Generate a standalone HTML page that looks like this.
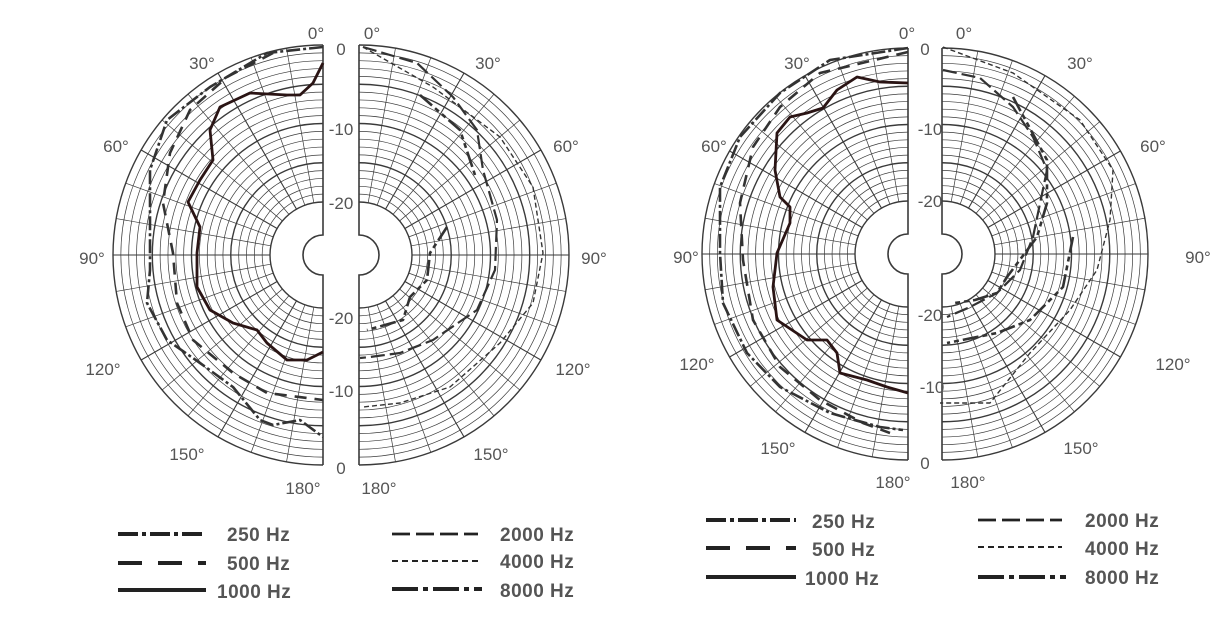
<!DOCTYPE html>
<html><head><meta charset="utf-8"><style>
html,body{margin:0;padding:0;background:#fff;}
svg{display:block}
text{font-family:"Liberation Sans",Arial,sans-serif;fill:#555;}
.lg{font-weight:bold;font-size:19px;fill:#333;letter-spacing:0.5px;}
.ax{font-size:17px;}
</style></head><body>
<svg id="s" width="1227" height="633" viewBox="0 0 1227 633" xmlns="http://www.w3.org/2000/svg">
<g id="grid"></g>
<g id="curves"></g>
<g class="ax" text-anchor="middle">
<text x="316" y="39">0°</text><text x="372" y="39">0°</text>
<text x="202" y="69">30°</text><text x="488" y="69">30°</text>
<text x="116" y="152">60°</text><text x="566" y="152">60°</text>
<text x="92" y="264">90°</text><text x="594" y="264">90°</text>
<text x="103" y="375">120°</text><text x="573" y="375">120°</text>
<text x="187" y="460">150°</text><text x="491" y="460">150°</text>
<text x="303" y="494">180°</text><text x="379" y="494">180°</text>
<text x="341" y="55">0</text><text x="341" y="135">-10</text><text x="341" y="209">-20</text>
<text x="341" y="324">-20</text><text x="341" y="397">-10</text><text x="341" y="474">0</text>
<text x="907" y="39">0°</text><text x="964" y="39">0°</text>
<text x="797" y="69">30°</text><text x="1080" y="69">30°</text>
<text x="714" y="152">60°</text><text x="1153" y="152">60°</text>
<text x="686" y="263">90°</text><text x="1198" y="263">90°</text>
<text x="697" y="370">120°</text><text x="1173" y="370">120°</text>
<text x="778" y="454">150°</text><text x="1081" y="454">150°</text>
<text x="893" y="488">180°</text><text x="968" y="488">180°</text>
<text x="925" y="55">0</text><text x="930" y="135">-10</text><text x="930" y="207">-20</text>
<text x="930" y="321">-20</text><text x="932" y="393">-10</text><text x="925" y="469">0</text>
</g>
<g stroke="#222" stroke-width="4" fill="none">
<line x1="118" y1="534" x2="206" y2="534" stroke-dasharray="20 4 4 4"/>
<line x1="118" y1="563" x2="206" y2="563" stroke-dasharray="24 16"/>
<line x1="118" y1="590" x2="206" y2="590"/>
<line x1="392" y1="534" x2="478" y2="534" stroke-dasharray="18 6" stroke-width="2.8"/>
<line x1="392" y1="561" x2="478" y2="561" stroke-dasharray="6 4" stroke-width="2"/>
<line x1="392" y1="589" x2="482" y2="589" stroke-dasharray="26 5 5 5"/>
<line x1="706" y1="520" x2="796" y2="520" stroke-dasharray="20 4 4 4"/>
<line x1="706" y1="548" x2="796" y2="548" stroke-dasharray="24 16"/>
<line x1="706" y1="577" x2="796" y2="577"/>
<line x1="978" y1="520" x2="1062" y2="520" stroke-dasharray="18 6" stroke-width="2.8"/>
<line x1="978" y1="547" x2="1062" y2="547" stroke-dasharray="6 4" stroke-width="2"/>
<line x1="978" y1="577" x2="1066" y2="577" stroke-dasharray="26 5 5 5"/>
</g>
<g class="lg">
<text x="227" y="541">250 Hz</text><text x="227" y="570">500 Hz</text><text x="217" y="598">1000 Hz</text>
<text x="500" y="541">2000 Hz</text><text x="500" y="568">4000 Hz</text><text x="500" y="597">8000 Hz</text>
<text x="812" y="528">250 Hz</text><text x="812" y="556">500 Hz</text><text x="805" y="585">1000 Hz</text>
<text x="1085" y="527">2000 Hz</text><text x="1085" y="555">4000 Hz</text><text x="1085" y="584">8000 Hz</text>
</g>
</svg>
<script>
var NS="http://www.w3.org/2000/svg";
function el(p,t,a){var e=document.createElementNS(NS,t);for(var k in a)e.setAttribute(k,a[k]);p.appendChild(e);return e;}
var G=document.getElementById("grid"),C=document.getElementById("curves");
function half(cx,cy,R,dir){
  var r0=53,k=(R-r0)/20,s=dir;
  var g=el(G,"g",{stroke:"#3a3a3a",fill:"none"});
  for(var d=0;d<=20;d++){
    var r=r0+d*k,maj=(d%5==0);
    el(g,"path",{d:"M"+cx+","+(cy-r)+" A"+r+","+r+" 0 0 "+(s<0?0:1)+" "+cx+","+(cy+r),"stroke-width":maj?1.4:0.7});
  }
  for(var a=10;a<180;a+=10){
    var t=a*Math.PI/180,sn=Math.sin(t),cs=Math.cos(t);
    el(g,"line",{x1:cx+s*r0*sn,y1:cy-r0*cs,x2:cx+s*R*sn,y2:cy-R*cs,"stroke-width":(a%30==0)?1.1:0.7});
  }
  el(g,"path",{d:"M"+cx+","+(cy-R)+" L"+cx+","+(cy-20)+" A20,20 0 0 "+(s<0?0:1)+" "+cx+","+(cy+20)+" L"+cx+","+(cy+R),"stroke-width":1.6});
}
half(323,255,210,-1);half(359,255,210,1);
half(908,254,206,-1);half(942,254,206,1);
var ST={
 "250":{w:2.6,d:"14 3 3 3",c:"#333"},
 "500":{w:2.6,d:"12 8",c:"#333"},
 "1000":{w:2.8,d:"",c:"#2a1414"},
 "2000":{w:2.2,d:"14 5",c:"#333"},
 "4000":{w:1.4,d:"5 3",c:"#333"},
 "8000":{w:2.6,d:"16 4 5 4 5 4",c:"#333"}
};
function crv(f,p){var s=ST[f];var a={points:p.join(" "),fill:"none",stroke:s.c,"stroke-width":s.w,"stroke-linejoin":"round","stroke-linecap":"butt"};if(s.d)a["stroke-dasharray"]=s.d;el(C,"polyline",a);}
crv("1000",[[323,63],[313,83],[300,95],[287,95],[250,93],[220,107],[210,130],[213,160],[200,180],[188,202],[200,227],[197,253],[197,287],[210,310],[233,323],[257,330],[267,343],[287,360],[307,360],[323,352]]);
crv("250",[[323,47],[267,53],[210,87],[167,120],[150,170],[150,220],[150,270],[147,303],[167,340],[200,363],[233,387],[260,420],[273,425],[300,420],[323,437]]);
crv("500",[[273,53],[227,77],[190,110],[170,153],[163,203],[173,253],[177,303],[193,340],[233,373],[267,393],[323,400]]);
crv("2000",[[363,47],[417,63],[453,97],[477,130],[483,170],[497,220],[495,270],[477,310],[433,340],[400,353],[370,357],[360,358]]);
crv("4000",[[363,47],[433,87],[500,137],[533,187],[543,253],[533,303],[500,343],[450,387],[400,403],[363,407]]);
crv("8000",[[447,227],[430,253],[427,280],[410,297],[403,320],[367,330]]);
crv("8000",[[420,95],[460,130],[475,175]]);
crv("1000",[[908,83],[880,82],[857,77],[837,90],[823,108],[807,113],[790,117],[777,133],[775,170],[780,197],[790,207],[790,223],[777,253],[773,287],[777,320],[807,340],[827,340],[837,353],[840,373],[867,380],[887,387],[908,393]]);
crv("250",[[908,48],[830,60],[780,93],[740,137],[720,187],[720,253],[723,303],[747,353],[780,387],[830,413],[880,427],[903,430]]);
crv("500",[[908,52],[820,73],[780,107],[753,147],[740,203],[743,260],[753,320],[780,367],[820,400],[863,423],[890,433]]);
crv("2000",[[943,70],[980,78],[1013,107],[1033,137],[1047,170],[1033,237],[1020,270],[997,293],[970,307],[947,317]]);
crv("4000",[[943,47],[1013,73],[1080,120],[1113,170],[1110,220],[1097,270],[1070,310],[1030,353],[990,403],[963,403],[940,403]]);
crv("8000",[[1013,97],[1047,160],[1047,203],[1037,237],[1007,277],[997,293],[975,300],[955,303]]);
crv("8000",[[1073,237],[1063,287],[1030,320],[997,333],[947,343]]);
</script>
</body></html>
